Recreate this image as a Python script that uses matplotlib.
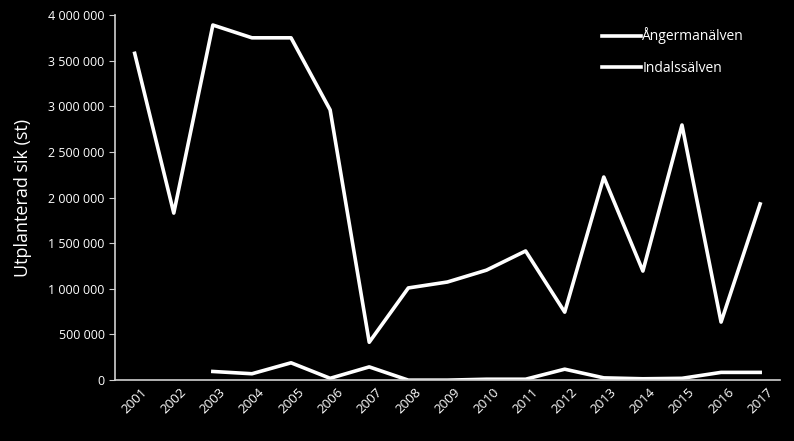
import matplotlib
matplotlib.use("Agg")
import matplotlib.pyplot as plt
from matplotlib.ticker import FuncFormatter

# data
years = list(range(2001, 2018))
angerman = [3580000, 1830000, 3890000, 3750000, 3750000, 2960000, 415000, 1010000,
            1075000, 1205000, 1415000, 745000, 2225000, 1195000, 2795000, 636000, 1930000]
indals_years = list(range(2003, 2018))
indals = [95000, 70000, 190000, 20000, 145000, 0, 0, 10000, 10000, 120000,
          25000, 15000, 20000, 85000, 85000]

plt.rcParams["font.family"] = ["Open Sans", "DejaVu Sans"]

fig = plt.figure(figsize=(7.94, 4.41), dpi=100, facecolor="black")
ax = fig.add_axes([0.145, 0.138, 0.837, 0.828], facecolor="black")

ax.plot(years, angerman, color="white", lw=2.6, label="Ångermanälven")
ax.plot(indals_years, indals, color="white", lw=2.6, label="Indalssälven")

ax.set_xlim(2000.5, 2017.5)
ax.set_ylim(0, 4000000)
ax.set_yticks(range(0, 4000001, 500000))
ax.yaxis.set_major_formatter(FuncFormatter(lambda v, p: f"{int(v):,}".replace(",", " ")))
ax.set_xticks(years)
ax.set_xticklabels([str(y) for y in years], rotation=45, ha="center")

for s in ["top", "right"]:
    ax.spines[s].set_visible(False)
for s in ["left", "bottom"]:
    ax.spines[s].set_color("#d0d0d0")
    ax.spines[s].set_linewidth(1.2)

ax.tick_params(axis="y", colors="#d0d0d0", labelcolor="white", labelsize=9, length=4)
ax.tick_params(axis="x", length=0, labelcolor="white", labelsize=9.5, pad=4)

ax.set_ylabel("Utplanterad sik (st)", color="white", fontsize=13, labelpad=12)

leg = ax.legend(loc="upper right", bbox_to_anchor=(0.965, 1.0), frameon=False,
                labelcolor="white", fontsize=10, handlelength=2.8, handletextpad=0.1,
                labelspacing=1.2)

fig.savefig("out.png", dpi=100, facecolor="black")
